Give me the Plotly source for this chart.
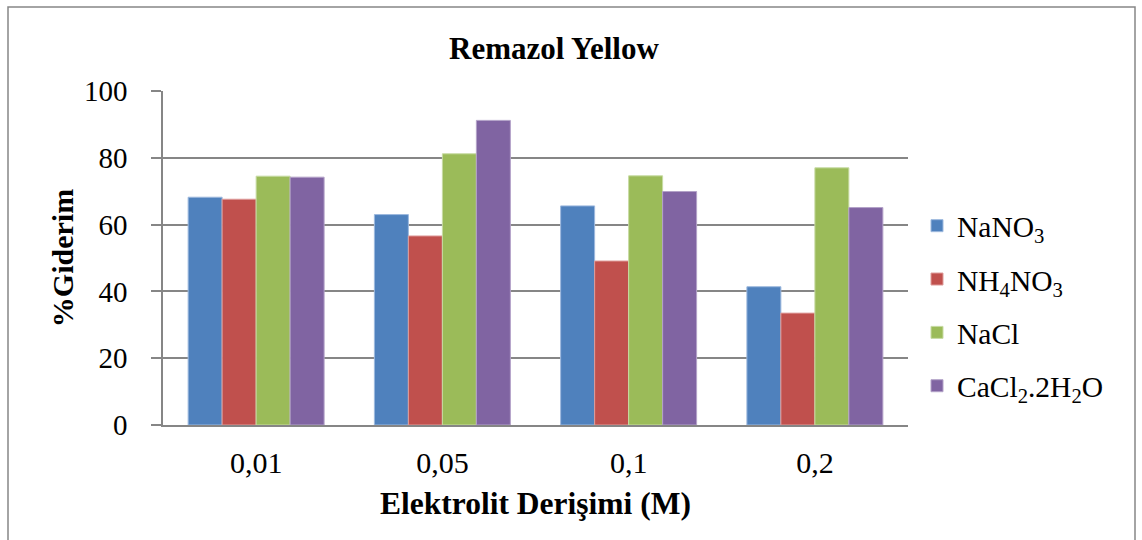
import plotly.graph_objects as go

# Electrolyte concentrations (M) and dye removal percentages
concentrations = ["0,01", "0,05", "0,1", "0,2"]
nano3 = [68.2, 63.0, 65.6, 41.4]
nh4no3 = [67.6, 56.6, 49.1, 33.5]
nacl = [74.5, 81.2, 74.6, 77.0]
cacl2 = [74.2, 91.2, 69.9, 65.1]

series_names = ["NaNO<sub>3</sub>", "NH<sub>4</sub>NO<sub>3</sub>", "NaCl", "CaCl<sub>2</sub>.2H<sub>2</sub>O"]
series_values = [nano3, nh4no3, nacl, cacl2]
fill_colors = ["#4F81BD", "#C0504D", "#9BBB59", "#8064A2"]
edge_colors = ["#9DB9DE", "#DE9C9A", "#C7DBA3", "#B3A2C8"]

SERIF = "Liberation Serif, Times New Roman, serif"
GRID = "#868686"

fig = go.Figure()
for i, (name, vals) in enumerate(zip(series_names, series_values)):
    fig.add_trace(go.Bar(
        x=concentrations, y=vals, name=name, legendgroup=f"g{i}",
        marker=dict(color=fill_colors[i], line=dict(color=edge_colors[i], width=1)),
    ))

W, H = 1142, 540
L, R, T, B = 163, 234, 91, 115
pw, ph = W - L - R, H - T - B

def px_x(p):
    return (p - L) / pw

def px_y(p):
    return (H - B - p) / ph

fig.update_layout(
    width=W, height=H,
    margin=dict(l=L, r=R, t=T, b=B, pad=0),
    paper_bgcolor="white", plot_bgcolor="white",
    barmode="group", bargap=0.27, bargroupgap=0,
    font=dict(family=SERIF, color="black", size=29),
    title=dict(text="<b>Remazol Yellow</b>", font=dict(size=31, family=SERIF),
               x=554 / W, xanchor="center", y=1 - 48 / H, yanchor="middle",
               xref="container", yref="container"),
    legend=dict(x=px_x(917), xanchor="left", y=px_y(306), yanchor="middle",
                font=dict(size=29.5, family=SERIF), tracegroupgap=12,
                bgcolor="rgba(0,0,0,0)", itemclick=False),
    showlegend=True,
    shapes=[dict(type="rect", xref="paper", yref="paper",
                 x0=px_x(8), x1=px_x(1135), y0=px_y(560), y1=px_y(7),
                 line=dict(color=GRID, width=1.5), layer="below")],
)

fig.update_yaxes(
    range=[0, 100], dtick=20, tick0=0,
    showgrid=True, gridcolor=GRID, gridwidth=1.5,
    showline=True, linecolor=GRID, linewidth=1.5,
    ticks="outside", ticklen=10, tickcolor=GRID, tickwidth=1.5,
    ticklabelstandoff=18,
    tickfont=dict(size=29, family=SERIF),
    zeroline=False,
    title=dict(text="<b>%Giderim</b>", font=dict(size=30, family=SERIF), standoff=1),
)
fig.update_xaxes(
    showline=True, linecolor=GRID, linewidth=1.5,
    ticks="", ticklabelstandoff=10,
    tickfont=dict(size=30, family=SERIF),
    title=dict(text="<b>Elektrolit Derişimi (M)</b>", font=dict(size=31.5, family=SERIF), standoff=14),
)

fig.write_html("out.html")
